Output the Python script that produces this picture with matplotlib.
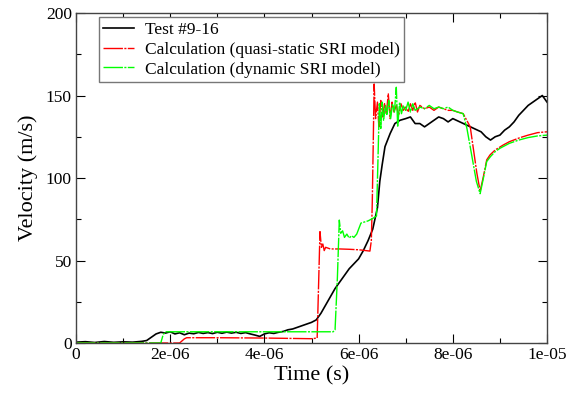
# -*- coding: utf-8 -*-
import numpy as np
import matplotlib
matplotlib.use("Agg")
import matplotlib.pyplot as plt

plt.rcParams['font.family'] = ['Liberation Serif', 'DejaVu Serif']

# Test #9-16 (time in microseconds, velocity in m/s)
t_test = [0.0, 0.2, 0.4, 0.6, 0.8, 1.0, 1.2, 1.4, 1.5, 1.6, 1.7, 1.8, 1.9, 2.0,
          2.1, 2.2, 2.3, 2.4, 2.5, 2.6, 2.7, 2.8, 2.9, 3.0, 3.1, 3.2, 3.3, 3.4,
          3.5, 3.6, 3.7, 3.8, 3.9, 4.0, 4.1, 4.2, 4.3, 4.4, 4.5, 4.6, 4.7, 4.8,
          4.9, 5.0, 5.1, 5.2, 5.3, 5.4, 5.5, 5.6, 5.7, 5.8, 5.9, 6.0, 6.1, 6.2,
          6.3, 6.4, 6.45, 6.5, 6.56, 6.67, 6.77, 6.88, 7.0, 7.1, 7.2, 7.3, 7.4,
          7.5, 7.6, 7.7, 7.8, 7.9, 8.0, 8.15, 8.3, 8.45, 8.6, 8.7, 8.8, 8.9,
          9.0, 9.1, 9.2, 9.3, 9.4, 9.5, 9.6, 9.7, 9.8, 9.9, 10.0]
v_test = [0.5, 0.8, 0.3, 0.9, 0.4, 0.7, 0.5, 1.0, 1.5, 3.5, 5.5, 6.5, 6.0, 6.8,
          5.5, 6.2, 5.0, 6.0, 5.6, 6.4, 5.8, 6.3, 5.7, 6.5, 5.9, 6.6, 6.0, 6.5,
          5.8, 6.3, 5.5, 4.8, 4.0, 5.5, 6.2, 5.8, 6.5, 7.0, 8.0, 8.5, 9.5, 10.5,
          11.5, 12.5, 14.0, 18.0, 23.0, 28.0, 33.0, 37.0, 41.0, 45.0, 48.0, 51.0,
          56.0, 62.0, 69.0, 82.0, 98.0, 108.0, 119.0, 127.0, 133.0, 135.0, 136.0,
          137.0, 133.0, 133.0, 131.0, 133.0, 135.0, 137.0, 136.0, 134.0, 136.0,
          134.0, 132.0, 130.0, 128.0, 125.0, 123.0, 125.0, 126.0, 129.0, 131.0,
          134.0, 138.0, 141.0, 144.0, 146.0, 148.0, 150.0, 146.0]

# Calculation (quasi-static SRI model)
t_qs = [0.0, 2.2, 2.3, 2.35, 3.0, 4.0, 4.5, 5.0, 5.12, 5.15, 5.18, 5.21, 5.24,
        5.27, 5.3, 5.4, 5.6, 5.8, 6.0, 6.1, 6.24, 6.27, 6.29, 6.31, 6.33, 6.36,
        6.40, 6.43, 6.47, 6.51, 6.55, 6.59, 6.63, 6.67, 6.71, 6.75, 6.80, 6.85,
        6.90, 6.95, 7.00, 7.05, 7.10, 7.15, 7.20, 7.25, 7.30, 7.40, 7.50, 7.60,
        7.70, 7.80, 7.90, 8.0, 8.1, 8.22, 8.37, 8.44, 8.51, 8.58, 8.65, 8.72,
        8.79, 8.9, 9.07, 9.2, 9.43, 9.6, 9.8, 10.0]
v_qs = [0.0, 0.0, 2.5, 3.2, 3.2, 3.0, 2.8, 2.6, 3.0, 35.0, 67.5, 58.0, 60.0,
        56.0, 58.0, 57.0, 57.0, 56.8, 56.5, 56.2, 55.7, 62.0, 85.0, 120.0, 157.0,
        136.0, 146.0, 131.0, 147.0, 137.0, 145.0, 139.0, 151.0, 136.0, 146.0,
        140.0, 144.0, 138.0, 145.0, 141.0, 143.0, 140.0, 145.0, 141.0, 146.0,
        140.0, 144.0, 142.0, 143.0, 141.0, 143.0, 142.0, 141.0, 141.0, 140.0,
        139.0, 131.0, 117.0, 103.0, 92.0, 101.0, 111.0, 114.0, 117.0, 120.0,
        122.0, 124.5, 126.0, 127.5, 128.0]

# Calculation (dynamic SRI model)
t_dyn = [0.0, 1.8, 1.85, 1.9, 5.46, 5.5, 5.55, 5.59, 5.62, 5.66, 5.7, 5.75,
         5.8, 5.85, 5.9, 5.96, 6.05, 6.2, 6.3, 6.38, 6.41, 6.44, 6.47, 6.50,
         6.53, 6.57, 6.60, 6.64, 6.68, 6.72, 6.76, 6.80, 6.83, 6.87, 6.91, 6.95,
         7.0, 7.05, 7.1, 7.15, 7.2, 7.3, 7.4, 7.5, 7.6, 7.7, 7.8, 7.9, 8.0, 8.1,
         8.22, 8.3, 8.4, 8.5, 8.58, 8.65, 8.72, 8.8, 8.9, 9.0, 9.2, 9.4, 9.6,
         9.8, 10.0]
v_dyn = [0.0, 0.0, 5.0, 6.8, 6.8, 8.0, 40.0, 74.5, 66.5, 68.0, 64.0, 66.0,
         63.6, 65.0, 64.0, 66.0, 72.7, 74.0, 75.5, 77.0, 110.0, 145.0, 130.0,
         146.0, 135.0, 144.0, 138.0, 147.0, 136.0, 145.0, 140.0, 155.0, 131.0,
         146.0, 139.0, 144.0, 141.0, 146.0, 140.0, 145.0, 141.0, 143.0, 142.0,
         144.0, 142.0, 143.0, 142.0, 143.0, 141.0, 140.0, 139.0, 130.0, 114.0,
         98.0, 90.5, 100.0, 110.0, 113.0, 116.0, 118.0, 121.0, 123.0, 124.5,
         125.5, 126.0]

x_ticks = [0, 2e-6, 4e-6, 6e-6, 8e-6, 1e-5]
x_tick_labels = ['0', '2e-06', '4e-06', '6e-06', '8e-06', '1e-05']
y_ticks = [0, 50, 100, 150, 200]

fig = plt.figure(figsize=(5.71, 3.98), dpi=100)
ax = fig.add_axes([0.1331, 0.1382, 0.8249, 0.8291])

dash = (0, (14, 1.0, 1.5, 1.0))
ax.plot(np.array(t_test) * 1e-6, v_test, color='black', lw=1.2, label='Test #9-16')
ax.plot(np.array(t_qs) * 1e-6, v_qs, color='#ff0000', lw=1.0, ls=dash,
        label='Calculation (quasi-static SRI model)')
ax.plot(np.array(t_dyn) * 1e-6, v_dyn, color='#00ff00', lw=1.0, ls=dash,
        label='Calculation (dynamic SRI model)')

ax.set_xlim(0, 1e-5)
ax.set_ylim(0, 200)
ax.set_xticks(x_ticks)
ax.set_xticklabels(x_tick_labels)
ax.set_xticks(np.arange(1e-6, 1e-5, 2e-6), minor=True)
ax.set_yticks(y_ticks)
ax.set_yticks([25, 75, 125, 175], minor=True)
ax.tick_params(which='both', direction='in', top=True, right=True,
               labelsize=12.5, pad=3)
ax.tick_params(which='major', length=6.5, width=0.8)
ax.tick_params(which='minor', length=3.5, width=0.8)
for s in ax.spines.values():
    s.set_linewidth(1.0)
    s.set_color('#444444')

ax.set_xlabel('Time (s)', fontsize=16, labelpad=2)
ax.set_ylabel('Velocity (m/s)', fontsize=16, labelpad=6)

leg = ax.legend(loc='upper left', bbox_to_anchor=(0.173, 0.957),
                bbox_transform=fig.transFigure, fontsize=12.5, fancybox=False,
                borderaxespad=0, borderpad=0.25, handlelength=1.8,
                handletextpad=0.6, labelspacing=0.22, framealpha=1)
leg.get_frame().set_edgecolor('#777777')
leg.get_frame().set_linewidth(1.0)

fig.savefig('out.png', dpi=100)
